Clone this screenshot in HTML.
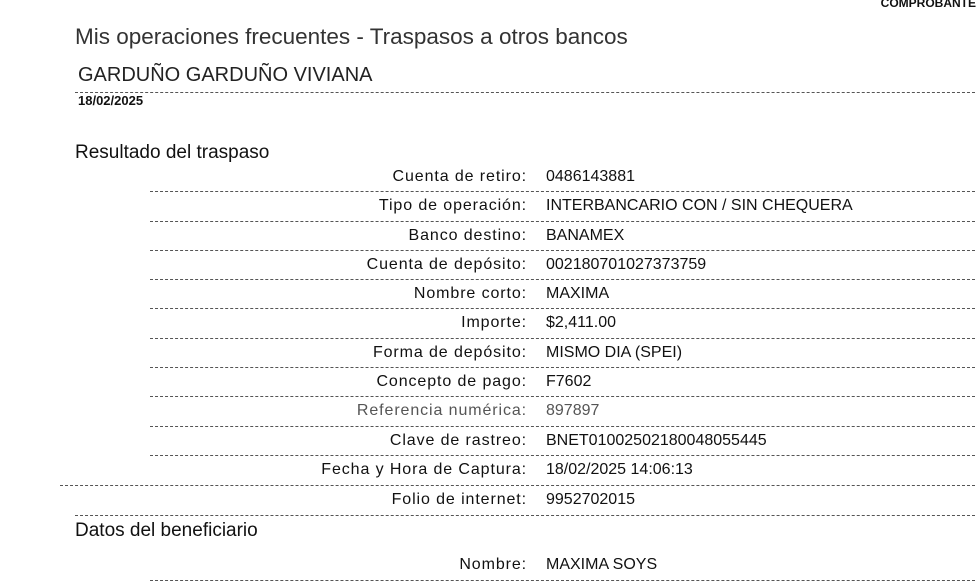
<!DOCTYPE html>
<html><head><meta charset="utf-8"><style>
body{margin:0;width:980px;height:582px;background:#fff;position:relative;overflow:hidden;font-family:"Liberation Sans",Arial,sans-serif;color:#111}
.a{position:absolute;white-space:nowrap}
.l{position:absolute;right:453px;font-size:16px;letter-spacing:0.9px;text-align:right;white-space:nowrap;line-height:18px}
.v{position:absolute;left:546px;font-size:16px;white-space:nowrap;line-height:18px}
.hr{position:absolute;height:0;border-top:1px dashed #555}
</style></head><body>
<div class="a" style="right:4px;top:-4px;font-size:12px;font-weight:bold;line-height:14px">COMPROBANTE</div>
<div class="a" style="left:75px;top:24px;font-size:22.5px;line-height:26px;color:#333">Mis operaciones frecuentes - Traspasos a otros bancos</div>
<div class="a" style="left:78px;top:64px;font-size:20px;line-height:22px;color:#222">GARDUÑO GARDUÑO VIVIANA</div>
<div class="hr" style="left:75px;right:5px;top:92px"></div>
<div class="a" style="left:78px;top:93px;font-size:13px;line-height:15px;font-weight:bold">18/02/2025</div>
<div class="a" style="left:75px;top:142px;font-size:19px;line-height:22px">Resultado del traspaso</div>

<div class="l" style="top:168px">Cuenta de retiro:</div><div class="v" style="top:168px">0486143881</div>
<div class="hr" style="left:150px;right:5px;top:191px"></div>
<div class="l" style="top:197px">Tipo de operación:</div><div class="v" style="top:197px">INTERBANCARIO CON / SIN CHEQUERA</div>
<div class="hr" style="left:150px;right:5px;top:221px"></div>
<div class="l" style="top:227px">Banco destino:</div><div class="v" style="top:227px">BANAMEX</div>
<div class="hr" style="left:150px;right:5px;top:250px"></div>
<div class="l" style="top:256px">Cuenta de depósito:</div><div class="v" style="top:256px">002180701027373759</div>
<div class="hr" style="left:150px;right:5px;top:279px"></div>
<div class="l" style="top:285px">Nombre corto:</div><div class="v" style="top:285px">MAXIMA</div>
<div class="hr" style="left:150px;right:5px;top:308px"></div>
<div class="l" style="top:314px">Importe:</div><div class="v" style="top:314px">$2,411.00</div>
<div class="hr" style="left:150px;right:5px;top:338px"></div>
<div class="l" style="top:344px">Forma de depósito:</div><div class="v" style="top:344px">MISMO DIA (SPEI)</div>
<div class="hr" style="left:150px;right:5px;top:367px"></div>
<div class="l" style="top:373px">Concepto de pago:</div><div class="v" style="top:373px">F7602</div>
<div class="hr" style="left:150px;right:5px;top:396px"></div>
<div class="l" style="top:402px;color:#555">Referencia numérica:</div><div class="v" style="top:402px;color:#555">897897</div>
<div class="hr" style="left:150px;right:5px;top:426px"></div>
<div class="l" style="top:432px">Clave de rastreo:</div><div class="v" style="top:432px">BNET01002502180048055445</div>
<div class="hr" style="left:150px;right:5px;top:455px"></div>
<div class="l" style="top:461px">Fecha y Hora de Captura:</div><div class="v" style="top:461px">18/02/2025 14:06:13</div>
<div class="hr" style="left:60px;right:5px;top:485px"></div>
<div class="l" style="top:491px">Folio de internet:</div><div class="v" style="top:491px">9952702015</div>
<div class="hr" style="left:75px;right:5px;top:515px"></div>
<div class="a" style="left:75px;top:520px;font-size:19px;line-height:22px">Datos del beneficiario</div>
<div class="l" style="top:556px">Nombre:</div><div class="v" style="top:556px">MAXIMA SOYS</div>
<div class="hr" style="left:150px;right:5px;top:580px"></div>
</body></html>
